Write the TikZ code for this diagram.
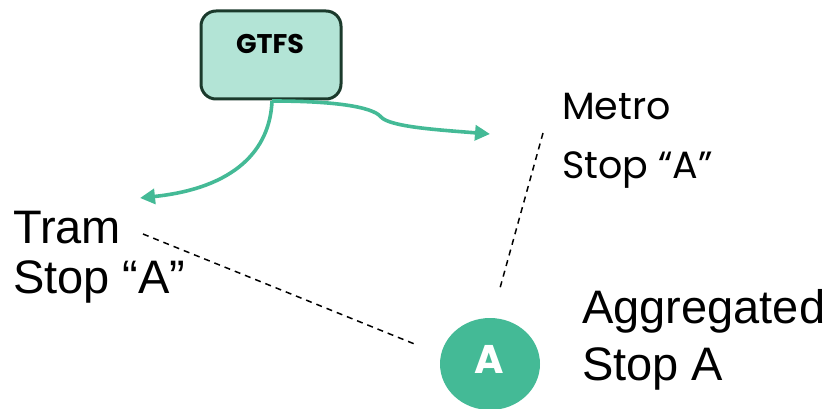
\documentclass[tikz,border=0pt]{standalone}
\usepackage{fontspec}
\setmainfont{Liberation Sans}
\newfontfamily\geo{Poppins}
\usetikzlibrary{arrows.meta,shapes.geometric}
\definecolor{teal1}{HTML}{44BA96}
\definecolor{mint}{HTML}{B3E4D6}
\definecolor{darkgr}{HTML}{1B3A2C}
\tikzset{
  bigtxt/.style={anchor=base west,inner sep=0pt,font=\fontsize{47}{54}\selectfont},
  geotxt/.style={anchor=base west,inner sep=0pt,font=\geo\fontsize{38}{44}\selectfont},
  flow/.style={draw=teal1,line width=3.6pt,-{Triangle[length=15pt,width=15pt]}},
  link/.style={draw=black,line width=1.5pt,dash pattern=on 6pt off 5pt},
}
\begin{document}
\begin{tikzpicture}[x=1pt,y=-1pt]
\useasboundingbox (0,0) rectangle (837,409);
\begin{scope}
\clip (0,0) rectangle (837,409);
\node[draw=darkgr,fill=mint,line width=3pt,rounded corners=15pt,minimum width=140pt,minimum height=88pt,inner sep=0pt] (gtfs) at (271,55) {};
\node[anchor=base,inner sep=0pt,font=\geo\bfseries\fontsize{27}{32}\selectfont] (gtfst) at (270,54) {GTFS};
\node[ellipse,fill=teal1,minimum width=100pt,minimum height=92pt,inner sep=0pt] (agg) at (490,364) {};
\end{scope}
\node[anchor=center,inner sep=0pt,text=white,font=\geo\bfseries\fontsize{40}{46}\selectfont] (aggt) at (489,359) {A};
\node[bigtxt] (tram1) at (13,243) {Tram};
\node[bigtxt] (tram2) at (13,293) {Stop “A”};
\node[bigtxt] (agg1) at (582,323) {Aggregated};
\node[bigtxt] (agg2) at (582,380) {Stop A};
\node[geotxt] (metro1) at (562,120) {Metro};
\node[geotxt] (metro2) at (562,178) {Stop “A”};
\coordinate (src) at (272,101);
\coordinate (tramtip) at (140,198);
\coordinate (metrotip) at (490,134);
\coordinate (kink) at (381,117);
\draw[flow] (src) .. controls (270,150) and (235,188) .. (tramtip);
\draw[flow] (src) .. controls (330,101) and (372,106) .. (kink) .. controls (390,127) and (440,130) .. (metrotip);
\coordinate (t1) at (143,234);
\coordinate (t2) at (417,345);
\coordinate (m1) at (543,133);
\coordinate (m2) at (500,288);
\draw[link] (t1) -- (t2);
\draw[link] (m1) -- (m2);
\end{tikzpicture}
\end{document}
